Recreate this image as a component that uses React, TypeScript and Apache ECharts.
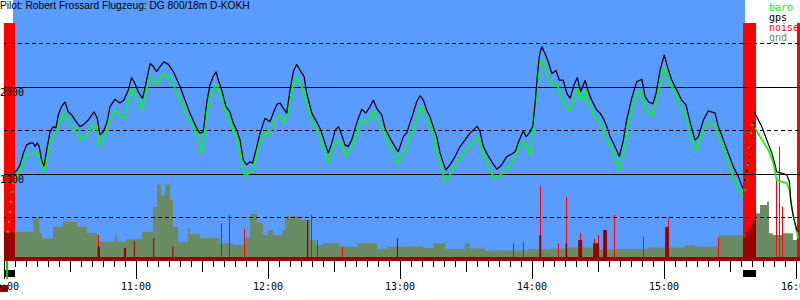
import React, { useEffect, useRef } from 'react';
import * as echarts from 'echarts';

// ---- texts ----
const TITLE = 'Pilot: Robert Frossard Flugzeug: DG 800/18m D-KOKH';
const hourLabels = ['10:00', '11:00', '12:00', '13:00', '14:00', '15:00', '16:00'];
const altLabels = [1000, 2000];
const gridSolid = [1000, 2000];
const gridDashed = [500, 1500, 2500];

// x values are minutes after 10:00
const X_MAX = 361.8;
const Y_MAX = 3000;

// flight (blue background) and engine runs
const flightStart = 4.1;
const flightEnd = 336.8;
const engineStart = [0, 335.9];
const engineEnd = [5.0, 341.8];
const engineNoise = [2735, 2735];
const takeoffTime = [1.4];

// GPS altitude (m)
const gpsTime = [
  4.2, 5.8, 7.3, 8.8, 10.3, 11.8, 13.3, 14.1, 15.1, 16.0,
  17.1, 18.2, 19.4, 20.9, 22.4, 23.6, 24.7, 26.2, 27.7, 29.2,
  30.8, 32.3, 34.5, 36.0, 38.3, 40.9, 42.4, 43.6, 45.1, 46.7,
  48.2, 50.5, 52.7, 54.5, 56.5, 58.0, 59.5, 61.0, 63.0, 64.5,
  66.4, 67.9, 69.4, 70.9, 72.7, 74.7, 77.0, 80.0, 82.3, 84.5,
  87.6, 89.1, 90.6, 92.1, 93.6, 95.1, 96.4, 97.4, 99.0, 100.9,
  102.7, 104.2, 105.8, 107.3, 108.8, 110.3, 111.8, 113.0, 114.9, 116.4,
  118.6, 120.9, 122.4, 124.2, 125.5, 127.0, 128.5, 130.0, 131.5, 133.0,
  134.5, 136.4, 137.6, 139.9, 142.1, 144.0, 145.9, 147.4, 149.0, 150.5,
  152.0, 153.5, 155.0, 156.5, 158.0, 160.3, 162.6, 164.4, 166.4, 167.9,
  169.4, 171.7, 173.2, 175.5, 177.7, 179.2, 180.0, 181.5, 183.0, 184.5,
  186.0, 187.6, 189.1, 190.6, 192.1, 193.6, 195.1, 196.7, 198.2, 199.7,
  200.8, 202.7, 205.0, 207.3, 209.5, 211.8, 214.1, 215.1, 216.4, 217.9,
  219.4, 221.7, 224.0, 226.2, 228.5, 230.8, 232.3, 234.2, 236.0, 237.3,
  238.8, 240.3, 241.4, 242.4, 243.3, 244.4, 245.9, 247.4, 249.0, 250.9,
  252.4, 254.2, 255.8, 257.3, 259.1, 260.6, 262.1, 264.1, 265.6, 267.1,
  269.4, 270.9, 272.4, 274.0, 275.5, 277.7, 279.7, 281.5, 283.0, 285.3,
  287.6, 289.9, 291.4, 292.9, 294.9, 296.4, 298.2, 300.1, 302.0, 303.5,
  305.8, 308.0, 310.0, 311.8, 314.1, 315.6, 317.9, 320.1, 323.2, 324.7,
  327.0, 329.2, 331.5, 333.8, 335.8,
  338.0,
  340.9, 342.1, 344.4, 346.7, 349.0, 350.5, 351.2, 353.5, 355.8, 357.0,
  357.6, 358.8, 360.3, 361.3,
];
const gpsAlt = [
  1010, 1040, 1105, 1240, 1335, 1355, 1355, 1315, 1360, 1315,
  1160, 1090, 1275, 1485, 1545, 1530, 1680, 1775, 1830, 1715,
  1680, 1620, 1545, 1565, 1620, 1715, 1640, 1450, 1485, 1585,
  1775, 1860, 1815, 1850, 1965, 2110, 2040, 1945, 1870, 2040,
  2270, 2235, 2175, 2235, 2290, 2260, 2175, 2005, 1850, 1700,
  1525, 1470, 1485, 1815, 2025, 2120, 2175, 2080, 1965, 1775,
  1715, 1585, 1505, 1390, 1160, 1105, 1140, 1125, 1315, 1470,
  1640, 1600, 1700, 1805, 1815, 1755, 1700, 1965, 2175, 2260,
  2195, 2120, 1930, 1700, 1600, 1505, 1355, 1240, 1355, 1505,
  1545, 1450, 1335, 1315, 1390, 1585, 1745, 1700, 1775, 1850,
  1755, 1680, 1525, 1410, 1315, 1255, 1315, 1430, 1470, 1585,
  1700, 1830, 1900, 1850, 1735, 1660, 1545, 1430, 1240, 1125,
  1045, 1105, 1200, 1315, 1390, 1470, 1525, 1550, 1485, 1315,
  1240, 1140, 1055, 1105, 1200, 1230, 1255, 1390, 1495, 1430,
  1470, 1545, 1815, 2120, 2350, 2465, 2385, 2290, 2155, 2190,
  2080, 2080, 1930, 1870, 2025, 2110, 1945, 2075, 1945, 1850,
  1735, 1700, 1640, 1545, 1430, 1315, 1200, 1390, 1620, 1870,
  2060, 2090, 1890, 1830, 1805, 1930, 2195, 2370, 2195, 2080,
  1965, 1850, 1795, 1600, 1390, 1430, 1620, 1725, 1700, 1545,
  1390, 1240, 1085, 970, 835,
  null,
  1715, 1660, 1545, 1390, 1240, 1105, 1025, 1010, 990, 910,
  700, 510, 355, 335,
];
const gpsEngineTime = [337.0, 337.6, 338.2, 338.8, 339.4, 339.9, 340.6];
const gpsEngineAlt = [930, 1035, 1125, 1200, 1295, 1430, 1585];

// barometric altitude (m)
const baroTime = [
  5.0, 6.5, 7.3, 9.5, 11.0, 13.3, 14.9, 16.0, 17.9, 19.4,
  20.9, 22.4, 24.7, 27.0, 29.2, 31.5, 35.3, 38.3, 40.9, 42.4,
  43.3, 45.1, 47.4, 50.5, 52.7, 55.0, 56.5, 58.0, 60.3, 63.0,
  64.9, 66.7, 69.4, 72.4, 74.7, 77.0, 80.0, 83.0, 86.0, 88.8,
  89.5, 90.6, 92.1, 94.4, 96.4, 98.2, 100.5, 102.7, 105.0, 107.3,
  109.5, 111.8, 113.3, 115.6, 117.9, 120.1, 122.4, 125.5, 127.7, 129.2,
  131.5, 133.0, 135.3, 137.3, 139.9, 142.9, 145.1, 147.4, 149.7, 152.0,
  153.5, 155.5, 158.0, 160.3, 162.6, 164.9, 167.9, 170.1, 172.4, 174.7,
  177.0, 179.2, 180.0, 183.0, 186.0, 189.4, 192.1, 195.1, 195.9, 198.2,
  200.5, 202.7, 205.8, 210.3, 213.3, 215.1, 217.1, 219.4, 222.4, 224.0,
  227.0, 230.0, 232.3, 234.5, 236.0, 237.6, 239.1, 240.6, 242.1, 243.3,
  244.4, 245.9, 248.2, 249.4, 251.2, 252.7, 255.5, 257.0, 258.8, 260.6,
  262.6, 264.1, 265.6, 267.9, 270.9, 272.4, 274.7, 277.7, 279.5, 281.5,
  283.8, 286.0, 289.1, 291.4, 294.4, 296.7, 299.0, 300.1, 302.7, 305.0,
  308.0, 310.3, 312.6, 314.5, 317.1, 320.1, 323.2, 325.5, 327.7, 330.8,
  333.8, 335.8,
  338.0,
  341.4, 343.6, 345.1, 347.4, 349.7, 351.2, 353.5, 355.8, 357.0, 358.0,
  359.5, 361.0,
];
const baroAlt = [
  930, 1010, 1045, 1180, 1230, 1230, 1255, 1200, 1025, 1160,
  1355, 1430, 1545, 1700, 1620, 1525, 1390, 1470, 1575, 1505,
  1320, 1390, 1585, 1735, 1660, 1640, 1850, 1985, 1890, 1735,
  1985, 2125, 2025, 2155, 2120, 2025, 1850, 1680, 1545, 1355,
  1240, 1335, 1715, 1945, 2030, 1930, 1735, 1565, 1470, 1240,
  970, 1025, 1045, 1315, 1485, 1430, 1585, 1680, 1585, 1735,
  2025, 2110, 2005, 1830, 1600, 1470, 1315, 1125, 1315, 1390,
  1315, 1200, 1315, 1470, 1620, 1585, 1715, 1600, 1505, 1355,
  1255, 1105, 1180, 1315, 1505, 1780, 1620, 1470, 1315, 1125,
  910, 990, 1125, 1275, 1370, 1420, 1275, 1125, 970, 945,
  1025, 1105, 1200, 1355, 1370, 1275, 1220, 1620, 1965, 2235,
  2310, 2235, 2040, 2025, 2060, 1910, 1775, 1715, 1850, 1985,
  1830, 1965, 1815, 1680, 1585, 1485, 1355, 1200, 1025, 1240,
  1545, 1815, 1955, 1755, 1665, 1850, 2120, 2235, 2040, 1930,
  1735, 1640, 1390, 1255, 1470, 1590, 1565, 1390, 1240, 1010,
  815, 740,
  null,
  1525, 1430, 1370, 1275, 1125, 930, 910, 895, 815, 605,
  435, 260,
];
const baroEngineTime = [1.8, 2.3, 2.7, 3.2, 3.8, 4.2, 337.0, 337.5, 338.0, 338.8, 339.5, 340.1];
const baroEngineAlt = [335, 450, 565, 680, 795, 895, 815, 930, 1105, 1300, 1470, 1565];

// ground elevation under track (m), stepwise
const gndTime = [
  5.0, 13.2, 16.1, 17.3, 22.3, 26.8, 33.2, 37.7, 42.7, 50.5,
  51.4, 55.5, 62.7, 67.7, 69.5, 71.4, 73.2, 75.5, 76.8, 79.1,
  83.6, 84.5, 89.1, 93.6, 98.2, 104.1, 109.5, 111.8, 115.0, 117.7,
  120.0, 122.3, 126.4, 127.7, 134.5, 139.1, 141.8, 145.0, 152.7, 160.5,
  169.5, 174.1, 180.0, 190.5, 195.0, 200.5, 209.5, 211.8, 218.6, 238.2,
  248.2, 256.4, 270.9, 292.3, 309.5, 314.1, 324.5, 331.4, 335.9, 338.6,
  341.8, 343.6, 346.8, 347.7, 349.5, 353.6, 358.6, 361.8,
];
const gndAlt = [
  335, 500, 320, 260, 395, 450, 395, 320, 220, 300,
  220, 250, 335, 625, 880, 760, 880, 700, 395, 220,
  370, 310, 265, 270, 205, 185, 265, 540, 440, 300,
  355, 300, 355, 515, 470, 240, 185, 205, 165, 205,
  140, 165, 170, 150, 205, 135, 205, 145, 120, 135,
  145, 155, 135, 155, 185, 165, 295, 295, 335, 450,
  550, 645, 680, 320, 300, 320, 240, 240,
];

// engine noise: smoothed level (dark) and peaks (bright)
const noiseLevelTime = [
  0, 5.0, 42.5, 43.6, 54.5, 55.5, 59.0, 59.5, 67.8, 68.3,
  76.5, 77.0, 137.7, 138.3, 178.6, 179.1, 243.3, 244.2, 255.2, 256.0,
  261.0, 262.8, 267.8, 270.5, 272.3, 274.1, 300.5, 302.3, 335.9, 337.3,
  338.6, 340.0, 341.2, 341.8, 361.8,
];
const noiseLevel = [
  330, 45, 165, 45, 150, 45, 230, 45, 265, 45,
  165, 45, 470, 45, 260, 45, 300, 45, 205, 45,
  240, 45, 205, 45, 355, 45, 390, 45, 265, 340,
  400, 460, 530, 45, 45,
];
const noisePeakTime = [
  42.9, 98.5, 102.4, 109.1, 139.7, 142.1, 153.5, 231.5, 236.0, 243.6,
  252.0, 255.5, 261.8, 268.3, 270.1, 277.4, 290.6, 301.7, 324.7, 350.9,
  352.3, 353.5, 360.5, 361.0, 361.4,
];
const noisePeak = [
  300, 435, 530, 370, 530, 240, 170, 205, 220, 860,
  205, 735, 320, 255, 300, 530, 280, 490, 265, 930,
  1315, 625, 2735, 2735, 2735,
];

// ---- styles ----
const BLUE = '#5a9bff';
const GND = '#6a8c64';
const RED = '#ff0000';
const DARK_RED = '#990000';
const GREEN = '#00ff00';
const MONO = 'DejaVu Sans Mono, monospace';

const pairs = (t: number[], v: (number | null)[]) =>
  t.map((x, i) => [x, v[i] === null ? '-' : v[i]]);

export default function App() {
  const ref = useRef<HTMLDivElement>(null);

  useEffect(() => {
    if (!ref.current) return;
    const chart = echarts.init(ref.current, undefined, { renderer: 'svg' });

    const xBase = {
      type: 'value',
      min: 0,
      max: X_MAX,
      position: 'bottom',
      axisLine: { show: false },
      splitLine: { show: false },
    };

    const option: any = {
      animation: false,
      backgroundColor: '#fff',
      title: {
        text: TITLE,
        left: 0,
        top: 0,
        padding: 0,
        textStyle: {
          fontFamily: 'Liberation Sans, Arial, sans-serif',
          fontSize: 10.2,
          fontWeight: 'normal',
          color: '#000',
        },
      },
      legend: {
        orient: 'vertical',
        left: 764,
        top: 2,
        padding: 0,
        itemGap: 0,
        itemWidth: 0,
        itemHeight: 10.3,
        icon: 'none',
        selectedMode: false,
        textStyle: { fontFamily: MONO, fontSize: 10 },
        data: [
          { name: 'baro', textStyle: { color: GREEN } },
          { name: 'gps', textStyle: { color: '#000' } },
          { name: 'noise', textStyle: { color: RED } },
          { name: 'gnd', textStyle: { color: GND } },
        ],
      },
      grid: { left: 4, right: 0, top: 0, bottom: 39, containLabel: false, outerBoundsMode: 'none' },
      xAxis: [
        {
          ...xBase,
          interval: 60,
          axisTick: { show: true, length: 18, lineStyle: { color: '#000' } },
          axisLabel: {
            show: true,
            margin: 20,
            fontFamily: MONO,
            fontSize: 10,
            color: '#000',
            hideOverlap: false,
            alignMinLabel: 'center',
            alignMaxLabel: 'center',
            formatter: (v: number) => (Math.abs(v % 60) < 1e-6 ? hourLabels[Math.round(v / 60)] || '' : ''),
          },
        },
        {
          ...xBase,
          interval: 30,
          axisTick: { show: true, length: 11, lineStyle: { color: '#000' } },
          axisLabel: { show: false },
        },
        {
          ...xBase,
          interval: 5,
          axisTick: { show: true, length: 6, lineStyle: { color: '#000' } },
          axisLabel: { show: false },
        },
      ],
      yAxis: {
        type: 'value',
        min: 0,
        max: Y_MAX,
        interval: 1000,
        z: 10,
        axisLine: { show: false },
        axisTick: { show: false },
        splitLine: { show: false },
        axisLabel: {
          inside: true,
          margin: -4,
          verticalAlign: 'top',
          overflow: 'none',
          fontFamily: MONO,
          fontSize: 10,
          color: '#000',
          formatter: (v: number) => (altLabels.includes(v) ? String(v) : ''),
        },
      },
      graphic: [
        { type: 'rect', left: 0, top: 285, shape: { width: 8, height: 7 }, style: { fill: DARK_RED }, z: 0 },
      ],
      series: [
        {
          name: 'gnd',
          type: 'line',
          step: 'end',
          z: 2,
          silent: true,
          symbol: 'none',
          data: pairs(gndTime, gndAlt),
          itemStyle: { color: GND },
          lineStyle: { width: 0 },
          areaStyle: { color: GND, opacity: 1 },
          markArea: {
            silent: true,
            z: 1,
            itemStyle: { color: BLUE },
            data: [[{ xAxis: flightStart }, { xAxis: flightEnd }]],
          },
          markLine: {
            silent: true,
            z: 5,
            symbol: ['none', 'none'],
            label: { show: false },
            lineStyle: { color: '#000', width: 1 },
            data: [
              ...gridSolid.map((v) => ({ yAxis: v, lineStyle: { type: 'solid', color: '#000', width: 1 } })),
              ...gridDashed.map((v) => ({ yAxis: v, lineStyle: { type: [4, 3], color: '#000', width: 1 } })),
            ],
          },
        },
        {
          name: 'noise',
          type: 'custom',
          z: 3,
          silent: true,
          itemStyle: { color: RED },
          data: engineStart.map((s, i) => [s, engineEnd[i], engineNoise[i]]),
          encode: { x: [0, 1], y: 2 },
          renderItem: (params: any, api: any) => {
            const p0 = api.coord([api.value(0), api.value(2)]);
            const p1 = api.coord([api.value(1), 0]);
            const cs = params.coordSys;
            return {
              type: 'group',
              children: [
                {
                  type: 'rect',
                  shape: { x: p0[0], y: p0[1], width: p1[0] - p0[0], height: p1[1] - p0[1] },
                  style: { fill: RED },
                },
                {
                  type: 'rect',
                  shape: { x: p0[0], y: cs.y + cs.height + 9, width: p1[0] - p0[0], height: 7 },
                  style: { fill: '#000' },
                },
              ],
            };
          },
        },
        {
          name: 'noise',
          type: 'custom',
          z: 4,
          silent: true,
          itemStyle: { color: RED },
          data: pairs(noisePeakTime, noisePeak),
          encode: { x: 0, y: 1 },
          renderItem: (params: any, api: any) => {
            const a = api.coord([api.value(0), api.value(1)]);
            const b = api.coord([api.value(0), 0]);
            return {
              type: 'rect',
              shape: { x: Math.round(a[0]), y: a[1], width: 1, height: b[1] - a[1] },
              style: { fill: RED },
            };
          },
        },
        {
          name: 'noise',
          type: 'line',
          step: 'end',
          z: 4,
          silent: true,
          symbol: 'none',
          data: pairs(noiseLevelTime, noiseLevel),
          itemStyle: { color: DARK_RED },
          lineStyle: { width: 0, color: DARK_RED },
          areaStyle: { color: DARK_RED, opacity: 1 },
        },
        {
          name: 'baro',
          type: 'scatter',
          z: 6,
          silent: true,
          symbol: 'rect',
          symbolSize: 2,
          data: pairs(baroEngineTime, baroEngineAlt),
          itemStyle: { color: GREEN },
        },
        {
          name: 'baro',
          type: 'line',
          z: 6,
          silent: true,
          symbol: 'none',
          data: pairs(baroTime, baroAlt),
          itemStyle: { color: GREEN },
          lineStyle: { color: GREEN, width: 1.6 },
        },
        {
          name: 'gps',
          type: 'scatter',
          z: 7,
          silent: true,
          symbol: 'rect',
          symbolSize: 2,
          data: pairs(gpsEngineTime, gpsEngineAlt),
          itemStyle: { color: '#000' },
        },
        {
          name: 'gps',
          type: 'line',
          z: 7,
          silent: true,
          symbol: 'none',
          data: pairs(gpsTime, gpsAlt),
          itemStyle: { color: '#000' },
          lineStyle: { color: '#000', width: 1.2 },
        },
        {
          name: 'takeoff',
          type: 'custom',
          z: 7,
          silent: true,
          itemStyle: { color: '#00cc00' },
          data: takeoffTime.map((t) => [t, 0]),
          encode: { x: 0, y: 1 },
          renderItem: (params: any, api: any) => {
            const p = api.coord([api.value(0), 0]);
            const cs = params.coordSys;
            return {
              type: 'rect',
              shape: { x: p[0] - 1, y: cs.y + cs.height, width: 2, height: 18 },
              style: { fill: '#00cc00' },
            };
          },
        },
      ],
    };

    chart.setOption(option);
    return () => chart.dispose();
  }, []);

  return (
    <div
      ref={ref}
      style={{ position: 'fixed', left: 0, top: 0, width: 800, height: 300, background: '#fff' }}
    />
  );
}
